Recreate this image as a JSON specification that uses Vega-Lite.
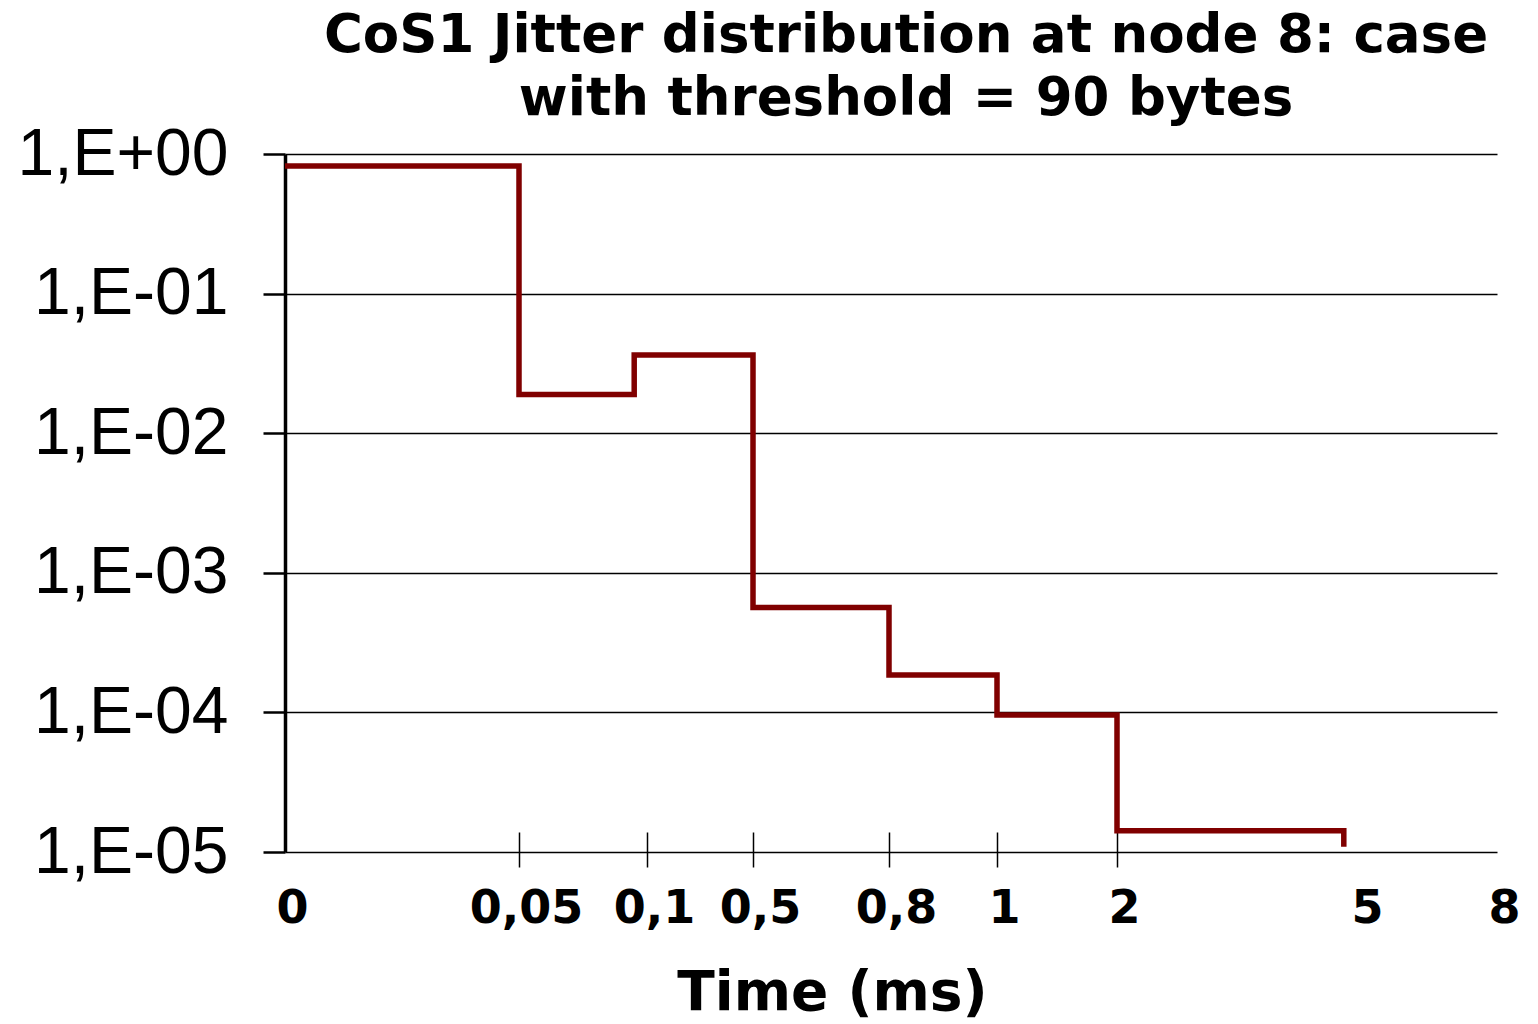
{
  "$schema": "https://vega.github.io/schema/vega-lite/v6.json",
  "width": 1212,
  "height": 698,
  "autosize": "none",
  "padding": {"left": 285, "top": 154, "right": 41, "bottom": 172},
  "background": "white",
  "title": {
    "text": ["CoS1 Jitter distribution at node 8: case", "with threshold = 90 bytes"],
    "font": "DejaVu Sans",
    "fontSize": 53,
    "fontWeight": "bold",
    "color": "black",
    "anchor": "middle",
    "dx": 15,
    "lineHeight": 63,
    "offset": -5
  },
  "data": {
    "values": [
      {"time_ms": 0, "probability": 0.82},
      {"time_ms": 0.05, "probability": 0.0189},
      {"time_ms": 0.095, "probability": 0.0363},
      {"time_ms": 0.5, "probability": 0.000565},
      {"time_ms": 0.8, "probability": 0.000185},
      {"time_ms": 1, "probability": 0.0000958},
      {"time_ms": 2, "probability": 0.0000142},
      {"time_ms": 4.8, "probability": 0.0000109}
    ]
  },
  "mark": {"type": "line", "interpolate": "step-after", "color": "#800000", "strokeWidth": 5.5, "clip": false},
  "encoding": {
    "x": {
      "field": "time_ms",
      "type": "quantitative",
      "scale": {
        "type": "linear",
        "domain": [0, 0.05, 0.1, 0.5, 0.8, 1, 2, 5, 8],
        "range": [0, 234, 362, 468, 604, 712, 832, 1075, 1212],
        "zero": false,
        "nice": false
      },
      "axis": {
        "title": "Time (ms)",
        "titleFont": "DejaVu Sans",
        "titleFontWeight": "bold",
        "titleFontSize": 55,
        "titleColor": "black",
        "titleX": 547,
        "titleY": 177,
        "titleBaseline": "alphabetic",
        "titleAnchor": "middle",
        "values": [0, 0.05, 0.1, 0.5, 0.8, 1, 2, 5, 8],
        "labelExpr": "replace(toString(datum.value), '.', ',')",
        "domain": false,
        "grid": false,
        "offset": -20,
        "tickSize": 35,
        "tickWidth": 1.5,
        "tickColor": "black",
        "tickOpacity": {"condition": {"test": "datum.value == 0 || datum.value >= 5", "value": 0}, "value": 1},
        "labelFont": "DejaVu Sans",
        "labelFontWeight": "bold",
        "labelFontSize": 46,
        "labelColor": "black",
        "labelBaseline": "alphabetic",
        "labelPadding": 55,
        "labelOffset": 7,
        "labelFlush": false,
        "labelOverlap": false,
        "labelBound": false,
        "labelLimit": 400
      }
    },
    "y": {
      "field": "probability",
      "type": "quantitative",
      "scale": {"type": "log", "domain": [0.00001, 1], "nice": false},
      "axis": {
        "title": null,
        "values": [1, 0.1, 0.01, 0.001, 0.0001, 0.00001],
        "labelExpr": "'1,E' + (datum.value >= 1 ? '+' : '-') + '0' + abs(round(log(datum.value) / LN10))",
        "grid": true,
        "gridColor": "black",
        "gridWidth": 1.6,
        "gridOpacity": 1,
        "domain": true,
        "domainColor": "black",
        "domainWidth": 3.5,
        "tickSize": 22,
        "tickWidth": 2.5,
        "tickColor": "black",
        "labelFont": "Liberation Sans",
        "labelFontSize": 66,
        "labelColor": "black",
        "labelPadding": 35,
        "labelBaseline": "middle",
        "labelOverlap": false,
        "labelFlush": false,
        "labelBound": false,
        "labelLimit": 400
      }
    }
  },
  "config": {"view": {"stroke": null}}
}
